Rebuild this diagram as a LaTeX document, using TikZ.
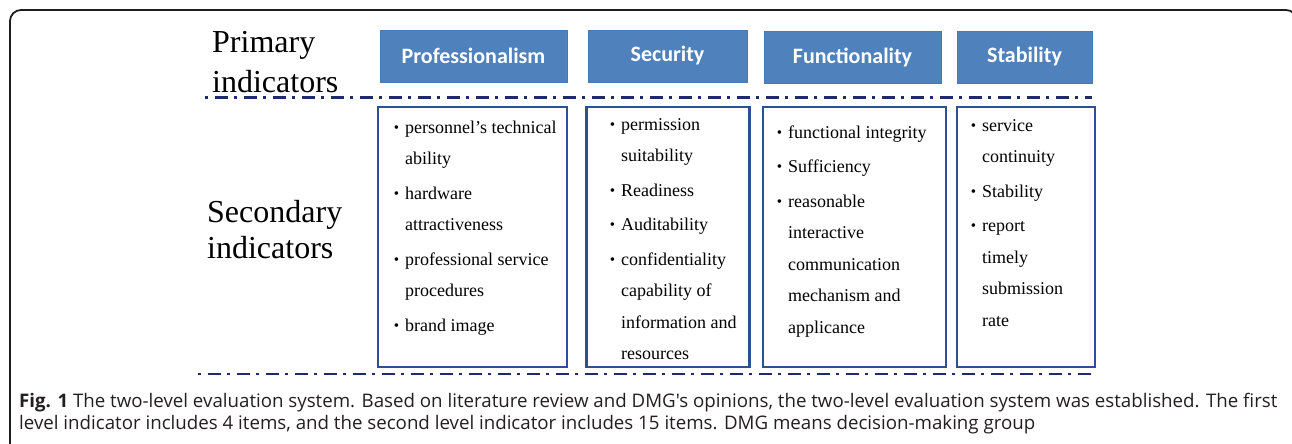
\documentclass[tikz,border=0pt]{standalone}
\usepackage{fontspec}
\setmainfont{Liberation Serif}
\newfontfamily\boxfont{Carlito}
\newfontfamily\capfont{Open Sans}
\definecolor{primfill}{RGB}{79,129,189}
\definecolor{primedge}{RGB}{74,120,178}
\definecolor{secedge}{RGB}{44,80,145}
\definecolor{sepcol}{RGB}{30,42,105}
\definecolor{framecol}{RGB}{30,30,30}
\definecolor{captext}{RGB}{35,31,32}
% bullet hanging to the left of an item's first line
\newcommand{\bitem}{\llap{\raisebox{1pt}{\fontsize{15}{15}\selectfont\textbullet}\hspace{6pt}}}
\tikzset{
  frame/.style={draw=framecol, line width=1.8pt, rounded corners=11pt},
  primbox/.style={fill=primfill, draw=primedge, line width=0.6pt, text=white,
    font=\boxfont\bfseries\fontsize{22}{22}\selectfont, inner sep=0pt},
  secbox/.style={draw=secedge, line width=2.4pt, inner sep=0pt},
  itemlist/.style={anchor=north west, inner sep=0pt, align=left,
    font=\fontsize{18}{31.5}\selectfont, text=black},
  levellabel/.style={anchor=north west, inner sep=0pt, align=left,
    font=\fontsize{32}{40}\selectfont},
  separator/.style={draw=sepcol, line width=2.5pt,
    dash pattern=on 3pt off 6.5pt on 13pt off 6.5pt},
  caption/.style={anchor=base west, inner sep=0pt, text=captext,
    font=\capfont\fontsize{18.7}{22}\selectfont}
}
\begin{document}
\begin{tikzpicture}[x=1pt,y=-1pt]
\useasboundingbox (0,0) rectangle (1292,444);
% outer frame
\draw[frame] (10,10) rectangle (1297,470);

% level labels (first baseline = anchor y + 28)
\node[levellabel] (lvlone) at (212,24) {\strut Primary\\indicators};
\node[levellabel] (lvltwo) at (207,194) {\strut Secondary\\[-4pt]indicators};

% first-level indicators
\node[primbox, minimum width=187pt, minimum height=52pt] (p1) at (473.5,56) {Professionalism};
\node[primbox, minimum width=159pt, minimum height=52pt] (p2) at (667.5,56) {Security};
\node[primbox, minimum width=177pt, minimum height=52pt] (p3) at (852.5,57) {Functionality};
\node[primbox, minimum width=135pt, minimum height=52pt] (p4) at (1024.5,57) {Stability};

% separators
\coordinate (sepaL) at (205,97.5);
\coordinate (sepaR) at (1092,97.5);
\coordinate (sepbL) at (198,374);
\coordinate (sepbR) at (1097,374);
\draw[separator] (sepaL) -- (sepaR);
\draw[separator] (sepbL) -- (sepbR);

% second-level indicator boxes
\node[secbox, minimum width=189pt, minimum height=260pt] (s1) at (472.5,237) {};
\node[secbox, minimum width=163pt, minimum height=260pt] (s2) at (668,237) {};
\node[secbox, minimum width=183pt, minimum height=260pt] (s3) at (854.5,237) {};
\node[secbox, minimum width=138pt, minimum height=260pt] (s4) at (1026,237) {};

% second-level indicator lists (first baseline = anchor y + 22.05)
\node[itemlist] (l1) at (405,111) {\bitem\strut personnel's technical\\ability\\[3pt]
  \bitem hardware\\attractiveness\\[3pt]
  \bitem professional service\\procedures\\[3pt]
  \bitem brand image};
\node[itemlist] (l2) at (621,108) {\bitem\strut permission\\suitability\\[3pt]
  \bitem Readiness\\[3pt]
  \bitem Auditability\\[3pt]
  \bitem confidentiality\\capability of\\information and\\resources};
\node[itemlist] (l3) at (788,116) {\bitem\strut functional integrity\\[3pt]
  \bitem Sufficiency\\[3pt]
  \bitem reasonable\\interactive\\communication\\mechanism and\\applicance};
\node[itemlist] (l4) at (982,109) {\bitem\strut service\\continuity\\[3pt]
  \bitem Stability\\[3pt]
  \bitem report\\timely\\submission\\rate};

% caption
\node[caption] (cap1) at (19,407) {\textbf{Fig. 1} The two-level evaluation system. Based on literature review and DMG's opinions, the two-level evaluation system was established. The first};
\node[caption] (cap2) at (19,429) {level indicator includes 4 items, and the second level indicator includes 15 items. DMG means decision-making group};
\end{tikzpicture}
\end{document}
